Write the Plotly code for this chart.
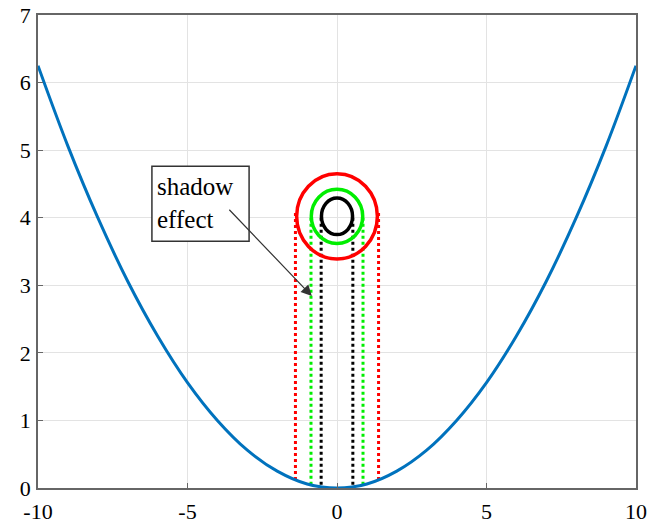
import plotly.graph_objects as go

# Parabola readings
curve_x = [-10, -9, -8, -7, -6, -5, -4, -3, -2, -1, 0, 1, 2, 3, 4, 5, 6, 7, 8, 9, 10]
curve_y = [6.25, 5.06, 4.0, 3.06, 2.25, 1.56, 1.0, 0.56, 0.25, 0.06, 0.0,
           0.06, 0.25, 0.56, 1.0, 1.56, 2.25, 3.06, 4.0, 5.06, 6.25]

# Ellipses (centre, half-widths in data units)
ring_colors = ["red", "#00ee00", "black"]
ring_cx = [0.0, 0.0, 0.0]
ring_cy = [4.02, 4.02, 4.02]
ring_rx = [1.35, 0.86, 0.52]
ring_ry = [0.63, 0.40, 0.27]

# Dotted "shadow" lines
shadow_x = [-1.39, -0.87, -0.53, 0.53, 0.87, 1.39]
shadow_top = [4.07, 4.0, 4.0, 4.0, 4.0, 4.07]
shadow_bottom = [0.12, 0.05, 0.02, 0.02, 0.05, 0.12]
shadow_colors = ["red", "#00ee00", "black", "black", "#00ee00", "red"]

x_ticks = [-10, -5, 0, 5, 10]
y_ticks = [0, 1, 2, 3, 4, 5, 6, 7]

font_family = "Liberation Serif"

fig = go.Figure()

for xs, yt, yb, c in zip(shadow_x, shadow_top, shadow_bottom, shadow_colors):
    fig.add_trace(go.Scatter(x=[xs, xs], y=[yt, yb], mode="lines",
                             line=dict(color=c, width=3, dash="3px,3px"),
                             showlegend=False, hoverinfo="skip"))

fig.add_trace(go.Scatter(x=curve_x, y=curve_y, mode="lines",
                         line=dict(color="#0072BD", width=3, shape="spline"),
                         showlegend=False))

for c, cx, cy, rx, ry in zip(ring_colors, ring_cx, ring_cy, ring_rx, ring_ry):
    fig.add_shape(type="circle", xref="x", yref="y",
                  x0=cx - rx, x1=cx + rx, y0=cy - ry, y1=cy + ry,
                  line=dict(color=c, width=3.5))

# Text box
fig.add_shape(type="rect", xref="x", yref="y", x0=-6.19, x1=-2.94, y0=3.65, y1=4.76,
              line=dict(color="#333333", width=1.5), fillcolor="white", layer="above")
fig.add_annotation(x=-6.08, y=4.22, xref="x", yref="y", text="shadow<br>effect",
                   showarrow=False, xanchor="left", yanchor="middle", align="left",
                   font=dict(family=font_family, size=25, color="black"))
# Arrow
fig.add_annotation(x=-0.84, y=2.84, ax=-3.65, ay=4.14, xref="x", yref="y",
                   axref="x", ayref="y", text="", showarrow=True,
                   arrowhead=2, arrowsize=1.8, arrowwidth=1.2, arrowcolor="#333333",
                   standoff=0, startstandoff=0)

axis_common = dict(showline=True, mirror=True, linecolor="#666666", linewidth=1.5,
                   showgrid=True, gridcolor="#e3e3e3", gridwidth=1, zeroline=False,
                   ticks="inside", ticklen=5, tickcolor="#666666", automargin=False,
                   tickfont=dict(family=font_family, size=22, color="black"))

fig.update_layout(
    width=663, height=529,
    margin=dict(l=38, r=27, t=15, b=41),
    plot_bgcolor="white", paper_bgcolor="white",
    xaxis=dict(range=[-10, 10], tickvals=x_ticks, ticktext=[str(v) for v in x_ticks],
               ticklabelstandoff=3, **axis_common),
    yaxis=dict(range=[0, 7], tickvals=y_ticks, ticktext=[str(v) for v in y_ticks],
               ticklabelstandoff=1, **axis_common),
)

fig.write_html("out.html")
